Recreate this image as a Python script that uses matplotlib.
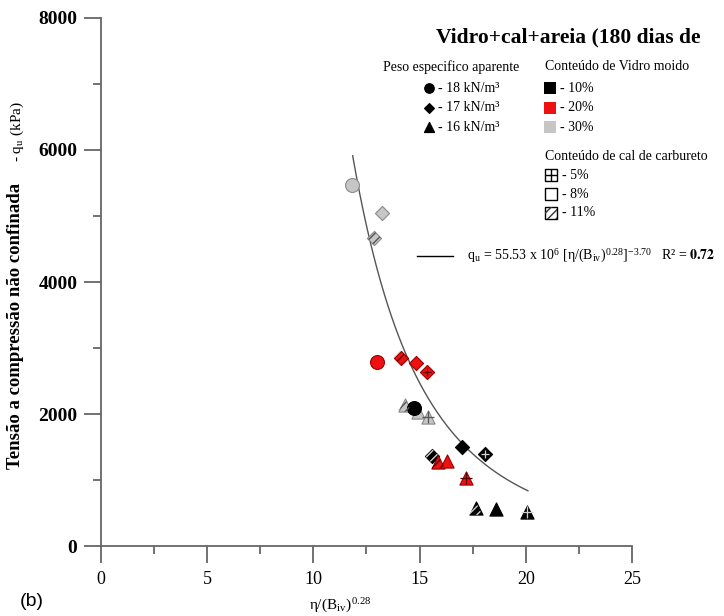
import numpy as np
import matplotlib
matplotlib.use("Agg")
from matplotlib import pyplot as plt

plt.rcParams['font.family'] = ['Liberation Serif', 'DejaVu Serif']
plt.rcParams['mathtext.fontset'] = 'stix'
plt.rcParams['hatch.linewidth'] = 1.0

# Test results: normalised porosity/binder index vs unconfined strength
eta_biv = [11.8, 13.22, 12.85, 12.98, 14.11, 14.82, 15.36, 14.31, 14.94, 14.74,
           15.41, 17.0, 18.09, 15.57, 15.88, 16.27, 17.18, 17.64, 18.58, 20.07]
qu = [5470, 5045, 4667, 2783, 2853, 2768, 2631, 2136, 2035, 2086,
      1960, 1495, 1399, 1369, 1278, 1288, 1025, 571, 556, 520]
unit_weight = [18, 17, 17, 18, 17, 17, 17, 16, 16, 18,
               16, 17, 17, 17, 16, 16, 16, 16, 16, 16]
glass = [30, 30, 30, 20, 20, 20, 20, 30, 30, 10,
         30, 10, 10, 10, 20, 20, 20, 10, 10, 10]
lime = [8, 8, 11, 8, 11, 8, 5, 11, 8, 8,
        5, 8, 5, 11, 11, 8, 5, 11, 8, 5]

# Power fit: qu = 55.53e6 * x^-3.70
fit_a = 55.53e6
fit_b = -3.70
fit_range = (11.85, 20.1)

shape_of = {18: 'o', 17: 'D', 16: '^'}
size_of = {18: 100, 17: 52, 16: 90}
fill_of = {10: '#000000', 20: '#ee1111', 30: '#c6c6c6'}
edge_of = {10: '#000000', 20: '#9a0000', 30: '#8a8a8a'}
hatch_col = {10: '#d0d0d0', 20: '#5a0000', 30: '#555555'}

fig = plt.figure(figsize=(7.24, 6.16), dpi=100)
ax = fig.add_axes([0.1395, 0.1136, 0.7334, 0.8572])

xs = np.linspace(*fit_range, 200)
ax.plot(xs, fit_a * xs ** fit_b, color='#555555', lw=1.0, zorder=1)

for x, y, w, g, c in zip(eta_biv, qu, unit_weight, glass, lime):
    m = shape_of[w]
    s = size_of[w]
    ax.scatter(x, y, marker=m, s=s, facecolor=fill_of[g], edgecolor=edge_of[g],
               linewidth=0.8, zorder=3)
    if c == 11:
        ax.scatter(x, y, marker=m, s=s, facecolor='none', edgecolor=hatch_col[g],
                   linewidth=0, hatch='////', zorder=4)
    elif c == 5:
        ax.scatter(x, y, marker='+', s=s * 0.7, color=hatch_col[g],
                   linewidth=0.9, zorder=4)

ax.set_xlim(0, 25)
ax.set_ylim(0, 8000)
ax.set_xticks([0, 5, 10, 15, 20, 25])
ax.set_xticks(np.arange(2.5, 25, 5), minor=True)
ax.set_yticks([0, 2000, 4000, 6000, 8000])
ax.set_yticks([1000, 3000, 5000, 7000], minor=True)
for side in ['top', 'right']:
    ax.spines[side].set_visible(False)
for side in ['left', 'bottom']:
    ax.spines[side].set_color('#666666')
    ax.spines[side].set_linewidth(1.3)
ax.tick_params(which='major', length=12, width=1.3, color='#666666', labelsize=13, pad=6)
ax.tick_params(axis='y', which='major', labelsize=14, pad=5)
ax.tick_params(which='minor', length=6, width=1.3, color='#666666')
for lbl in ax.get_yticklabels():
    lbl.set_fontweight('bold')

# Axis titles
fig.text(0.022, 0.471, 'Tensão a compressão não confinada', rotation=90,
         ha='center', va='center', fontsize=13.5, fontweight='bold')
fig.text(0.024, 0.786, r'- q$_\mathregular{u}$ (kPa)', rotation=90,
         ha='center', va='center', fontsize=11)
fig.text(340 / 724, 1 - 605 / 616, r'η/(B$_\mathregular{iv}$)$^\mathregular{0.28}$',
         ha='center', va='center', fontsize=11)
fig.text(20 / 724, 1 - 602 / 616, '(b)', ha='left', va='center', fontsize=14,
         family='Liberation Sans')


def fpos(xp, yp):
    return xp / 724, 1 - yp / 616


tf = fig.transFigure
fig.text(*fpos(568, 37), 'Vidro+cal+areia (180 dias de', ha='center', va='center',
         fontsize=15.5, fontweight='bold')
fig.text(*fpos(383, 67), 'Peso especifico aparente', ha='left', va='center', fontsize=10)
fig.text(*fpos(545, 67), 'Conteúdo de Vidro moido', ha='left', va='center', fontsize=10)
fig.text(*fpos(545, 156), 'Conteúdo de cal de carbureto', ha='left', va='center', fontsize=10)

leg_weights = [18, 17, 16]
leg_weight_labels = ['- 18 kN/m³', '- 17 kN/m³', '- 16 kN/m³']
leg_glass = [10, 20, 30]
leg_glass_labels = ['- 10%', '- 20%', '- 30%']
leg_lime = [5, 8, 11]
leg_lime_labels = ['- 5%', '- 8%', '- 11%']
leg_sizes = {18: 45, 17: 24, 16: 50}

for i, (w, lab) in enumerate(zip(leg_weights, leg_weight_labels)):
    yp = 88 + i * 19.5
    ax.scatter(*fpos(429, yp), marker=shape_of[w], s=leg_sizes[w], color='black',
               transform=tf, clip_on=False)
    fig.text(*fpos(438, yp), lab, ha='left', va='center', fontsize=10)

for i, (g, lab) in enumerate(zip(leg_glass, leg_glass_labels)):
    yp = 88 + i * 19.5
    ax.scatter(*fpos(550, yp), marker='s', s=70, color=fill_of[g], linewidth=0,
               transform=tf, clip_on=False)
    fig.text(*fpos(560, yp), lab, ha='left', va='center', fontsize=10)

for i, (c, lab) in enumerate(zip(leg_lime, leg_lime_labels)):
    yp = 175 + i * 19
    ax.scatter(*fpos(551, yp), marker='s', s=70, facecolor='white', edgecolor='black',
               linewidth=1.0, transform=tf, clip_on=False)
    if c == 11:
        ax.scatter(*fpos(551, yp), marker='s', s=70, facecolor='none', edgecolor='#333333',
                   linewidth=0, hatch='////', transform=tf, clip_on=False)
    elif c == 5:
        ax.scatter(*fpos(551, yp), marker='+', s=70, color='black', linewidth=1.0,
                   transform=tf, clip_on=False)
    fig.text(*fpos(562, yp), lab, ha='left', va='center', fontsize=10)

# Fit line entry
ax.plot([417 / 724, 453 / 724], [1 - 256 / 616] * 2, color='black', lw=1.0,
        transform=tf, clip_on=False)
fig.text(*fpos(467, 256),
         r'q$_\mathregular{u}$ = 55.53 x 10$^\mathregular{6}$ [η/(B$_\mathregular{iv}$)'
         r'$^\mathregular{0.28}$]$^\mathregular{-3.70}$   R² = $\mathbf{0.72}$',
         ha='left', va='center', fontsize=10)

fig.savefig('out.png', dpi=100)
